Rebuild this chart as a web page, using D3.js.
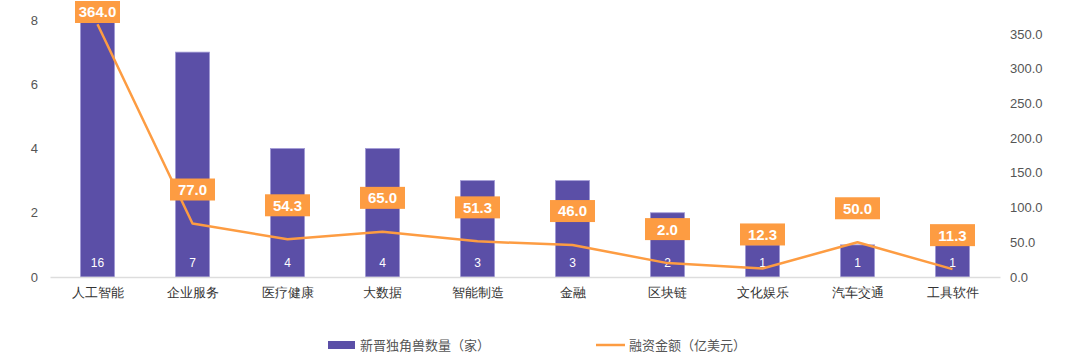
<!DOCTYPE html>
<html>
<head>
<meta charset="utf-8">
<script src="https://cdn.jsdelivr.net/npm/d3@7"></script>
<style>
  body { margin: 0; background: #fff; }
  svg { display: block; font-family: "Noto Sans CJK SC", "Noto Sans", sans-serif; }
</style>
</head>
<body>
<svg id="chart" width="1080" height="363"></svg>
<script>
const categories = ['人工智能', '企业服务', '医疗健康', '大数据', '智能制造', '金融', '区块链', '文化娱乐', '汽车交通', '工具软件'];
const unicornCounts = [16, 7, 4, 4, 3, 3, 2, 1, 1, 1];
const fundingAmounts = [364, 77, 54.3, 65, 51.3, 46, 20, 12.3, 50, 11.3];
const fundingLabels = ['364.0', '77.0', '54.3', '65.0', '51.3', '46.0', '2.0', '12.3', '50.0', '11.3'];
const leftTicks = [0, 2, 4, 6, 8];
const rightTicks = [0, 50, 100, 150, 200, 250, 300, 350];
const seriesNames = ['新晋独角兽数量（家）', '融资金额（亿美元）'];

const svg = d3.select('#chart');
const plot = { left: 50, right: 1000, top: 20, bottom: 277 };
const barColor = '#5b4fa7';
const lineColor = '#fd9c42';
const numFont = '"Liberation Sans", Arial, sans-serif';

const x = d3.scaleBand().domain(categories).range([plot.left, plot.right]).paddingInner(0.64).paddingOuter(0.32);
const yLeft = d3.scaleLinear().domain([0, 8]).range([plot.bottom, plot.top]);
const yRight = d3.scaleLinear().domain([0, 370]).range([plot.bottom, plot.top]);
const cx = d => x(d) + x.bandwidth() / 2;

// left axis
const leftAxis = svg.append('g')
  .attr('transform', `translate(${plot.left - 12},0)`)
  .call(d3.axisLeft(yLeft).tickValues(leftTicks).tickSize(0).tickPadding(0));
leftAxis.select('.domain').remove();
leftAxis.selectAll('text').attr('font-size', 13).attr('fill', '#555').style('font-family', numFont);

// right axis
const rightAxis = svg.append('g')
  .attr('transform', `translate(${plot.right + 10},0)`)
  .call(d3.axisRight(yRight).tickValues(rightTicks).tickFormat(d3.format('.1f')).tickSize(0).tickPadding(0));
rightAxis.select('.domain').remove();
rightAxis.selectAll('text').attr('font-size', 13).attr('fill', '#555').style('font-family', numFont);

// bars
svg.append('g').selectAll('rect')
  .data(categories)
  .join('rect')
  .attr('x', d => x(d))
  .attr('width', x.bandwidth())
  .attr('y', (d, i) => yLeft(Math.min(unicornCounts[i], 8)))
  .attr('height', (d, i) => plot.bottom - yLeft(Math.min(unicornCounts[i], 8)))
  .attr('fill', barColor)
  .attr('stroke', '#a39bd6')
  .attr('stroke-width', 0.8);

svg.append('g').selectAll('text')
  .data(categories)
  .join('text')
  .attr('x', d => cx(d))
  .attr('y', plot.bottom - 10)
  .attr('text-anchor', 'middle')
  .attr('font-size', 12)
  .attr('fill', '#fff')
  .style('font-family', numFont)
  .text((d, i) => unicornCounts[i]);

// x axis
const xAxis = svg.append('g')
  .attr('transform', `translate(0,${plot.bottom})`)
  .call(d3.axisBottom(x).tickSize(0).tickPadding(11));
xAxis.select('.domain').attr('stroke', '#ddd').attr('stroke-width', 1.5);
xAxis.selectAll('text').attr('font-size', 13).attr('fill', '#333');

// line
const line = d3.line()
  .x((d, i) => cx(categories[i]))
  .y(d => yRight(d));

svg.append('path')
  .datum(fundingAmounts)
  .attr('d', line)
  .attr('fill', 'none')
  .attr('stroke', lineColor)
  .attr('stroke-width', 2.5)
  .attr('stroke-linejoin', 'round');

// funding labels
const labels = svg.append('g').selectAll('g')
  .data(fundingAmounts)
  .join('g')
  .attr('transform', (d, i) => `translate(${cx(categories[i])},${Math.max(yRight(d) - 34, 12)})`);

labels.append('rect')
  .attr('x', -22.5)
  .attr('y', -11)
  .attr('width', 45)
  .attr('height', 22)
  .attr('fill', lineColor);

labels.append('text')
  .attr('text-anchor', 'middle')
  .attr('dy', '0.36em')
  .attr('font-size', 15)
  .attr('font-weight', 'bold')
  .attr('fill', '#fff')
  .style('font-family', numFont)
  .text((d, i) => fundingLabels[i]);

// legend
const legend = svg.append('g');
legend.append('rect').attr('x', 328).attr('y', 341).attr('width', 27).attr('height', 8).attr('fill', barColor);
legend.append('text').attr('x', 360).attr('y', 350).attr('font-size', 13).attr('fill', '#555').text(seriesNames[0]);
legend.append('line').attr('x1', 596).attr('x2', 625).attr('y1', 345).attr('y2', 345)
  .attr('stroke', lineColor).attr('stroke-width', 2.5);
legend.append('text').attr('x', 629).attr('y', 350).attr('font-size', 13).attr('fill', '#555').text(seriesNames[1]);
</script>
</body>
</html>
